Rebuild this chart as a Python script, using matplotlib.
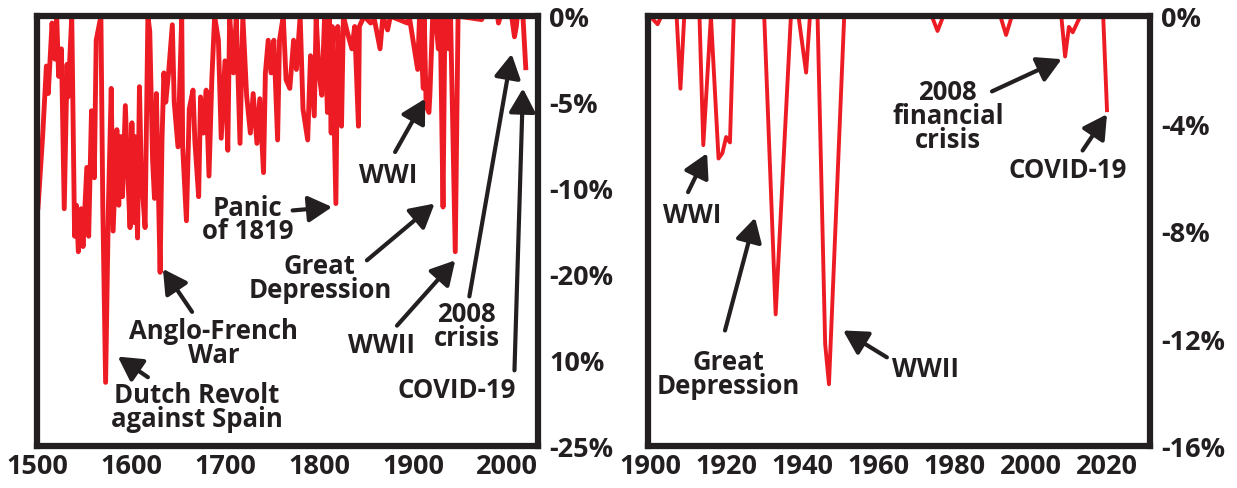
import matplotlib
matplotlib.use("Agg")
import matplotlib.pyplot as plt

plt.rcParams['font.family'] = ['Open Sans', 'DejaVu Sans']
plt.rcParams['font.weight'] = 'bold'

RED = '#ed1c24'
INK = '#231f20'

# long run series, 1500-2020 (% below previous peak)
long_years = [1500, 1501, 1506, 1510, 1512, 1516, 1519, 1521, 1523, 1526, 1529, 1532, 1533, 1537,
              1540, 1542, 1544, 1547, 1549, 1553, 1555, 1558, 1561, 1563, 1568, 1570, 1573, 1576,
              1579, 1581, 1585, 1587, 1589, 1591, 1594, 1597, 1599, 1601, 1603, 1604, 1607, 1609,
              1611, 1615, 1618, 1620, 1623, 1625, 1627, 1631, 1633, 1635, 1637, 1640, 1644, 1646,
              1650, 1654, 1655, 1659, 1662, 1666, 1668, 1672, 1674, 1677, 1680, 1683, 1686, 1689,
              1693, 1696, 1700, 1703, 1705, 1709, 1712, 1716, 1719, 1723, 1727, 1730, 1734, 1737,
              1741, 1743, 1746, 1749, 1752, 1756, 1758, 1762, 1765, 1769, 1773, 1776, 1780, 1783,
              1788, 1791, 1795, 1797, 1800, 1803, 1806, 1809, 1811, 1813, 1814, 1818, 1820, 1824,
              1826, 1830, 1835, 1838, 1842, 1843, 1848, 1855, 1859, 1865, 1868, 1873, 1876, 1894,
              1896, 1905, 1907, 1911, 1912, 1914, 1917, 1918, 1921, 1924, 1927, 1929, 1932, 1934,
              1936, 1938, 1940, 1945, 1948, 1973, 1975, 1990, 1991, 1993, 2005, 2008, 2010, 2011,
              2017, 2020]
long_vals = [-11.5, -11.2, -7.0, -2.9, -4.5, -0.4, -2.5, 0, -3.5, -1.9, -11.2, -2.8, -4.7, 0,
             -12.8, -11.0, -13.7, -11.2, -13.4, -8.8, -12.8, -5.5, -9.4, -1.4, 0, -11.0, -21.3, -11.0,
             -4.2, -12.5, -6.6, -11.0, -7.0, -10.5, -5.2, -9.7, -12.3, -6.2, -12.0, -7.0, -12.9, -4.1,
             -9.2, -12.3, 0, -0.9, -8.4, -10.6, -4.5, -14.9, -7.2, -3.3, -5.0, -3.3, -0.5, -5.0,
             -7.6, 0, -7.6, -11.9, -5.4, -4.3, -7.3, -10.5, -4.7, -6.8, -4.3, -9.3, -3.7, 0,
             -1.4, -7.1, -2.6, -7.8, 0, -3.3, 0, -7.4, 0, -4.6, -6.8, -4.5, -7.4, -4.8,
             -9.1, -3.3, -1.4, -3.3, -1.4, -7.2, -1.4, 0, -3.7, -4.2, -1.4, -3.1, 0, -5.4,
             -7.2, -2.3, -5.8, 0, -3.3, -4.6, 0, -5.6, 0, -6.8, -0.6, -10.9, -0.6, -6.4,
             0, -0.9, -1.9, -0.6, -6.4, -0.6, 0, -0.4, -0.2, -1.9, 0, -0.8, 0, -0.4,
             0, -3.1, 0, -4.2, 0, -5.2, -5.6, -4.6, 0, 0, -1.9, 0, -11.1, 0,
             -1.0, -1.9, 0, -13.7, 0, -0.2, 0, 0, -0.4, 0, 0, -1.2, -0.6, 0,
             0, -3.0]

# 20th century close-up, 1900-2020
short_years = [1900, 1902, 1903, 1907, 1908, 1909, 1913, 1914, 1916, 1918, 1919, 1920, 1921, 1922,
               1930, 1933, 1937, 1939, 1941, 1942, 1944, 1946, 1947, 1951, 1974, 1975.5, 1977,
               1992, 1993.5, 1995, 2008, 2009, 2010, 2011, 2013, 2019, 2020]
short_vals = [0, -0.3, 0, 0, -2.7, 0, 0, -4.8, 0, -5.3, -5.1, -4.5, -4.7, 0,
              0, -11.1, 0, 0, -2.1, 0, 0, -12.2, -13.7, 0, 0, -0.55, 0,
              0, -0.7, 0, 0, -1.5, -0.4, -0.6, 0, 0, -3.5]

long_xticks = [1500, 1600, 1700, 1800, 1900, 2000]
long_yticks = [0, -5, -10, -15, -20, -25]
long_ylabels = ['0%', '-5%', '-10%', '-20%', '10%', '-25%']
short_xticks = [1900, 1920, 1940, 1960, 1980, 2000, 2020]
short_yticks = [0, -4, -8, -12, -16]
short_ylabels = ['0%', '-4%', '-8%', '-12%', '-16%']

fig = plt.figure(figsize=(12.37, 4.89), dpi=100)
ax1 = fig.add_axes([0.0299, 0.0859, 0.405, 0.879])
ax2 = fig.add_axes([0.5239, 0.0859, 0.4058, 0.879])


def style(ax, xticks, yticks, ylabels):
    for s in ax.spines.values():
        s.set_linewidth(4.5)
        s.set_color(INK)
    ax.yaxis.tick_right()
    ax.set_xticks(xticks)
    ax.set_yticks(yticks)
    ax.set_yticklabels(ylabels)
    ax.tick_params(length=0, labelsize=19.5, labelcolor=INK)
    ax.tick_params(axis='x', pad=5)
    ax.tick_params(axis='y', pad=8)


def note(ax, txt, tx, ty, tail, head, ha='center'):
    ax.text(tx, ty, txt, ha=ha, va='center', fontsize=18.5, color=INK,
            fontweight='bold', linespacing=0.85)
    ax.annotate('', xy=head, xytext=tail,
                arrowprops=dict(arrowstyle='-|>,head_length=0.9,head_width=0.5',
                                lw=3, color=INK, shrinkA=0, shrinkB=0,
                                mutation_scale=16))


ax1.plot(long_years, long_vals, color=RED, lw=3.5, clip_on=True)
ax1.set_xlim(1500, 2033)
ax1.set_ylim(-25, 0)
style(ax1, long_xticks, long_yticks, long_ylabels)

note(ax1, 'Dutch Revolt\nagainst Spain', 1670, -22.7, (1618, -21.0), (1586, -19.8))
note(ax1, 'Anglo-French\nWar', 1688, -19.0, (1665, -17.2), (1634, -14.7))
note(ax1, 'Panic\nof 1819', 1724, -11.8, (1772, -11.3), (1814, -11.1))
note(ax1, 'Great\nDepression', 1801, -15.2, (1851, -14.2), (1923, -10.9))
note(ax1, 'WWI', 1874, -9.2, (1881, -7.9), (1913, -4.8))
note(ax1, 'WWII', 1867, -19.1, (1883, -18.0), (1945, -14.2))
note(ax1, '2008\ncrisis', 1957, -18.0, (1960, -16.3), (2005, -2.2))
note(ax1, 'COVID-19', 1946, -21.7, (2008, -20.6), (2017, -4.2))

ax2.plot(short_years, short_vals, color=RED, lw=2.8, clip_on=True)
ax2.set_xlim(1899.5, 2031.3)
ax2.set_ylim(-16, 0)
style(ax2, short_xticks, short_yticks, short_ylabels)

note(ax2, 'WWI', 1911, -7.4, (1910, -6.55), (1915, -5.1))
note(ax2, 'Great\nDepression', 1920.5, -13.3, (1919.7, -11.7), (1927.6, -7.5))
note(ax2, 'WWII', 1972.4, -13.1, (1962.2, -12.7), (1950.7, -11.7))
note(ax2, '2008\nfinancial\ncrisis', 1978.2, -3.7, (1989.8, -2.8), (2008.1, -1.6))
note(ax2, 'COVID-19', 2009.7, -5.7, (2013.6, -5.0), (2020, -3.65))

fig.savefig('out.png', dpi=100)
